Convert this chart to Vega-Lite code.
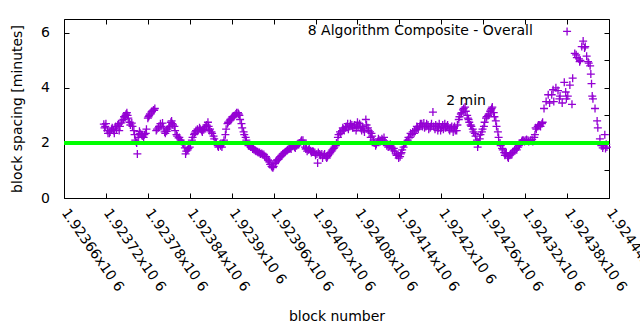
{
  "$schema": "https://vega.github.io/schema/vega-lite/v6.json",
  "width": 545,
  "height": 179,
  "autosize": "none",
  "padding": {"left": 64, "top": 19, "right": 31, "bottom": 132},
  "background": "white",
  "config": {
    "font": "DejaVu Sans",
    "view": {"stroke": "#000000", "strokeWidth": 1},
    "axis": {"grid": false, "domain": false, "labelFont": "DejaVu Sans", "titleFont": "DejaVu Sans", "labelFontSize": 14, "titleFontSize": 14, "titleFontWeight": "normal", "labelColor": "#000000", "titleColor": "#000000", "tickColor": "#000000", "tickSize": -5, "tickWidth": 1}
  },
  "datasets": {
    "blocks": [
      {"block": 1923717, "spacing": 2.68}, {"block": 1923719, "spacing": 2.6}, {"block": 1923722, "spacing": 2.45}, {"block": 1923725, "spacing": 2.35},
      {"block": 1923728, "spacing": 2.5}, {"block": 1923731, "spacing": 2.45}, {"block": 1923734, "spacing": 2.6}, {"block": 1923737, "spacing": 2.65},
      {"block": 1923739, "spacing": 2.45}, {"block": 1923742, "spacing": 2.73}, {"block": 1923745, "spacing": 2.85}, {"block": 1923747, "spacing": 2.95},
      {"block": 1923750, "spacing": 3.1}, {"block": 1923751, "spacing": 3.0}, {"block": 1923754, "spacing": 2.75}, {"block": 1923757, "spacing": 2.72},
      {"block": 1923760, "spacing": 2.45}, {"block": 1923762, "spacing": 2.1}, {"block": 1923764, "spacing": 2.0}, {"block": 1923765, "spacing": 1.6},
      {"block": 1923767, "spacing": 2.3}, {"block": 1923768, "spacing": 2.42}, {"block": 1923771, "spacing": 2.3}, {"block": 1923774, "spacing": 2.2},
      {"block": 1923777, "spacing": 2.35}, {"block": 1923780, "spacing": 2.9}, {"block": 1923782, "spacing": 3.0}, {"block": 1923785, "spacing": 3.12},
      {"block": 1923788, "spacing": 3.2}, {"block": 1923790, "spacing": 3.25}, {"block": 1923792, "spacing": 2.45}, {"block": 1923795, "spacing": 2.55},
      {"block": 1923798, "spacing": 2.7}, {"block": 1923801, "spacing": 2.72}, {"block": 1923804, "spacing": 2.4}, {"block": 1923807, "spacing": 2.42},
      {"block": 1923810, "spacing": 2.55}, {"block": 1923813, "spacing": 2.75}, {"block": 1923815, "spacing": 2.7}, {"block": 1923818, "spacing": 2.6},
      {"block": 1923821, "spacing": 2.3}, {"block": 1923824, "spacing": 2.18}, {"block": 1923827, "spacing": 2.1}, {"block": 1923830, "spacing": 2.0},
      {"block": 1923833, "spacing": 1.82}, {"block": 1923834, "spacing": 1.6}, {"block": 1923837, "spacing": 1.75}, {"block": 1923840, "spacing": 1.85},
      {"block": 1923843, "spacing": 2.1}, {"block": 1923846, "spacing": 2.3}, {"block": 1923848, "spacing": 2.4}, {"block": 1923851, "spacing": 2.5},
      {"block": 1923854, "spacing": 2.55}, {"block": 1923857, "spacing": 2.45}, {"block": 1923860, "spacing": 2.48}, {"block": 1923863, "spacing": 2.6},
      {"block": 1923866, "spacing": 2.75}, {"block": 1923868, "spacing": 2.45}, {"block": 1923871, "spacing": 2.4}, {"block": 1923874, "spacing": 2.25},
      {"block": 1923877, "spacing": 2.05}, {"block": 1923880, "spacing": 1.9}, {"block": 1923883, "spacing": 1.95}, {"block": 1923886, "spacing": 1.85},
      {"block": 1923888, "spacing": 2.0}, {"block": 1923891, "spacing": 2.3}, {"block": 1923894, "spacing": 2.7}, {"block": 1923897, "spacing": 2.8},
      {"block": 1923900, "spacing": 2.9}, {"block": 1923903, "spacing": 2.95}, {"block": 1923906, "spacing": 3.05}, {"block": 1923909, "spacing": 3.1},
      {"block": 1923911, "spacing": 3.0}, {"block": 1923914, "spacing": 2.7}, {"block": 1923917, "spacing": 2.4}, {"block": 1923920, "spacing": 2.2},
      {"block": 1923923, "spacing": 1.95}, {"block": 1923926, "spacing": 1.9}, {"block": 1923929, "spacing": 1.85}, {"block": 1923931, "spacing": 1.8},
      {"block": 1923934, "spacing": 1.72}, {"block": 1923937, "spacing": 1.68}, {"block": 1923940, "spacing": 1.65}, {"block": 1923943, "spacing": 1.62},
      {"block": 1923946, "spacing": 1.58}, {"block": 1923949, "spacing": 1.5}, {"block": 1923952, "spacing": 1.38}, {"block": 1923954, "spacing": 1.3},
      {"block": 1923957, "spacing": 1.15}, {"block": 1923959, "spacing": 1.1}, {"block": 1923962, "spacing": 1.25}, {"block": 1923964, "spacing": 1.35},
      {"block": 1923967, "spacing": 1.4}, {"block": 1923970, "spacing": 1.5}, {"block": 1923973, "spacing": 1.6}, {"block": 1923976, "spacing": 1.65},
      {"block": 1923979, "spacing": 1.72}, {"block": 1923982, "spacing": 1.78}, {"block": 1923984, "spacing": 1.82}, {"block": 1923987, "spacing": 1.88},
      {"block": 1923990, "spacing": 1.85}, {"block": 1923993, "spacing": 1.9}, {"block": 1923996, "spacing": 1.95}, {"block": 1923999, "spacing": 2.05},
      {"block": 1924002, "spacing": 2.1}, {"block": 1924005, "spacing": 1.85}, {"block": 1924007, "spacing": 1.8}, {"block": 1924010, "spacing": 1.75},
      {"block": 1924013, "spacing": 1.72}, {"block": 1924016, "spacing": 1.7}, {"block": 1924019, "spacing": 1.65}, {"block": 1924022, "spacing": 1.6},
      {"block": 1924023, "spacing": 1.27}, {"block": 1924026, "spacing": 1.6}, {"block": 1924029, "spacing": 1.6}, {"block": 1924032, "spacing": 1.55},
      {"block": 1924035, "spacing": 1.5}, {"block": 1924037, "spacing": 1.5}, {"block": 1924040, "spacing": 1.6}, {"block": 1924043, "spacing": 1.7},
      {"block": 1924046, "spacing": 1.8}, {"block": 1924049, "spacing": 1.9}, {"block": 1924052, "spacing": 2.2}, {"block": 1924055, "spacing": 2.4},
      {"block": 1924058, "spacing": 2.45}, {"block": 1924060, "spacing": 2.5}, {"block": 1924063, "spacing": 2.55}, {"block": 1924066, "spacing": 2.7},
      {"block": 1924069, "spacing": 2.6}, {"block": 1924072, "spacing": 2.65}, {"block": 1924075, "spacing": 2.55}, {"block": 1924078, "spacing": 2.45},
      {"block": 1924080, "spacing": 2.75}, {"block": 1924083, "spacing": 2.7}, {"block": 1924086, "spacing": 2.45}, {"block": 1924089, "spacing": 2.5},
      {"block": 1924092, "spacing": 2.85}, {"block": 1924095, "spacing": 2.55}, {"block": 1924098, "spacing": 2.4}, {"block": 1924100, "spacing": 2.35},
      {"block": 1924103, "spacing": 2.1}, {"block": 1924106, "spacing": 1.9}, {"block": 1924109, "spacing": 2.05}, {"block": 1924112, "spacing": 2.1},
      {"block": 1924115, "spacing": 2.15}, {"block": 1924118, "spacing": 2.2}, {"block": 1924121, "spacing": 2.0}, {"block": 1924123, "spacing": 1.95},
      {"block": 1924126, "spacing": 1.9}, {"block": 1924129, "spacing": 1.85}, {"block": 1924132, "spacing": 1.8}, {"block": 1924135, "spacing": 1.6},
      {"block": 1924138, "spacing": 1.55}, {"block": 1924141, "spacing": 1.5}, {"block": 1924143, "spacing": 1.65}, {"block": 1924146, "spacing": 1.85},
      {"block": 1924149, "spacing": 2.0}, {"block": 1924152, "spacing": 2.1}, {"block": 1924155, "spacing": 2.2}, {"block": 1924158, "spacing": 2.3},
      {"block": 1924161, "spacing": 2.35}, {"block": 1924164, "spacing": 2.5}, {"block": 1924166, "spacing": 2.55}, {"block": 1924169, "spacing": 2.6},
      {"block": 1924172, "spacing": 2.7}, {"block": 1924175, "spacing": 2.72}, {"block": 1924178, "spacing": 2.6}, {"block": 1924181, "spacing": 2.65},
      {"block": 1924184, "spacing": 2.55}, {"block": 1924186, "spacing": 2.7}, {"block": 1924188, "spacing": 3.12}, {"block": 1924191, "spacing": 2.5},
      {"block": 1924194, "spacing": 2.6}, {"block": 1924196, "spacing": 2.55}, {"block": 1924199, "spacing": 2.45}, {"block": 1924202, "spacing": 2.65},
      {"block": 1924205, "spacing": 2.7}, {"block": 1924208, "spacing": 2.6}, {"block": 1924211, "spacing": 2.5}, {"block": 1924214, "spacing": 2.55},
      {"block": 1924217, "spacing": 2.4}, {"block": 1924219, "spacing": 2.6}, {"block": 1924222, "spacing": 2.45}, {"block": 1924225, "spacing": 2.85},
      {"block": 1924228, "spacing": 3.05}, {"block": 1924231, "spacing": 3.2}, {"block": 1924234, "spacing": 3.3}, {"block": 1924237, "spacing": 3.0},
      {"block": 1924239, "spacing": 2.85}, {"block": 1924242, "spacing": 2.65}, {"block": 1924245, "spacing": 2.5}, {"block": 1924248, "spacing": 2.35},
      {"block": 1924251, "spacing": 2.1}, {"block": 1924252, "spacing": 1.85}, {"block": 1924255, "spacing": 2.15}, {"block": 1924258, "spacing": 2.4},
      {"block": 1924261, "spacing": 2.6}, {"block": 1924264, "spacing": 2.9}, {"block": 1924267, "spacing": 3.0}, {"block": 1924270, "spacing": 3.15},
      {"block": 1924272, "spacing": 3.25}, {"block": 1924275, "spacing": 3.1}, {"block": 1924278, "spacing": 2.8}, {"block": 1924281, "spacing": 2.4},
      {"block": 1924284, "spacing": 2.0}, {"block": 1924287, "spacing": 1.8}, {"block": 1924290, "spacing": 1.65}, {"block": 1924292, "spacing": 1.6},
      {"block": 1924295, "spacing": 1.5}, {"block": 1924298, "spacing": 1.55}, {"block": 1924301, "spacing": 1.6}, {"block": 1924304, "spacing": 1.7},
      {"block": 1924307, "spacing": 1.8}, {"block": 1924310, "spacing": 1.85}, {"block": 1924312, "spacing": 1.95}, {"block": 1924315, "spacing": 2.05},
      {"block": 1924318, "spacing": 2.1}, {"block": 1924321, "spacing": 2.1}, {"block": 1924324, "spacing": 2.1}, {"block": 1924327, "spacing": 2.08},
      {"block": 1924330, "spacing": 2.12}, {"block": 1924333, "spacing": 2.2}, {"block": 1924335, "spacing": 2.55}, {"block": 1924338, "spacing": 2.6},
      {"block": 1924341, "spacing": 2.65}, {"block": 1924344, "spacing": 2.7}, {"block": 1924347, "spacing": 3.25}, {"block": 1924350, "spacing": 3.5},
      {"block": 1924353, "spacing": 3.75}, {"block": 1924355, "spacing": 3.45}, {"block": 1924358, "spacing": 3.75}, {"block": 1924360, "spacing": 3.93},
      {"block": 1924361, "spacing": 3.5}, {"block": 1924364, "spacing": 4.0}, {"block": 1924367, "spacing": 3.9}, {"block": 1924369, "spacing": 3.6},
      {"block": 1924370, "spacing": 3.7}, {"block": 1924373, "spacing": 3.45}, {"block": 1924376, "spacing": 4.2}, {"block": 1924378, "spacing": 3.85},
      {"block": 1924379, "spacing": 3.6}, {"block": 1924381, "spacing": 3.7}, {"block": 1924384, "spacing": 4.1}, {"block": 1924387, "spacing": 3.4},
      {"block": 1924388, "spacing": 4.35}, {"block": 1924391, "spacing": 5.25}, {"block": 1924393, "spacing": 5.2}, {"block": 1924394, "spacing": 5.1},
      {"block": 1924397, "spacing": 5.05}, {"block": 1924398, "spacing": 4.95}, {"block": 1924399, "spacing": 5.0}, {"block": 1924401, "spacing": 5.5},
      {"block": 1924403, "spacing": 5.7}, {"block": 1924405, "spacing": 5.45}, {"block": 1924406, "spacing": 5.5}, {"block": 1924408, "spacing": 5.15},
      {"block": 1924410, "spacing": 4.95}, {"block": 1924411, "spacing": 4.9}, {"block": 1924413, "spacing": 4.8}, {"block": 1924414, "spacing": 4.5},
      {"block": 1924415, "spacing": 4.15}, {"block": 1924416, "spacing": 3.7}, {"block": 1924417, "spacing": 3.6}, {"block": 1924420, "spacing": 3.25},
      {"block": 1924423, "spacing": 2.8}, {"block": 1924424, "spacing": 2.55}, {"block": 1924427, "spacing": 2.15}, {"block": 1924429, "spacing": 1.9},
      {"block": 1924431, "spacing": 1.82}, {"block": 1924432, "spacing": 1.9}, {"block": 1924434, "spacing": 2.3}, {"block": 1924435, "spacing": 1.8},
      {"block": 1924436, "spacing": 1.95}, {"block": 1924437, "spacing": 1.85},
      {"block": 1923718, "spacing": 2.55}, {"block": 1923720, "spacing": 2.7}, {"block": 1923723, "spacing": 2.35}, {"block": 1923726, "spacing": 2.4},
      {"block": 1923729, "spacing": 2.55}, {"block": 1923732, "spacing": 2.35}, {"block": 1923735, "spacing": 2.5}, {"block": 1923738, "spacing": 2.7},
      {"block": 1923740, "spacing": 2.6}, {"block": 1923743, "spacing": 2.8}, {"block": 1923746, "spacing": 2.95}, {"block": 1923748, "spacing": 3.0},
      {"block": 1923749, "spacing": 3.05}, {"block": 1923752, "spacing": 2.9}, {"block": 1923755, "spacing": 2.65}, {"block": 1923758, "spacing": 2.6},
      {"block": 1923761, "spacing": 2.3}, {"block": 1923763, "spacing": 2.05}, {"block": 1923766, "spacing": 2.2}, {"block": 1923769, "spacing": 2.35},
      {"block": 1923772, "spacing": 2.25}, {"block": 1923775, "spacing": 2.3}, {"block": 1923778, "spacing": 2.5}, {"block": 1923781, "spacing": 2.95},
      {"block": 1923783, "spacing": 3.05}, {"block": 1923786, "spacing": 3.15}, {"block": 1923789, "spacing": 3.18}, {"block": 1923793, "spacing": 2.5},
      {"block": 1923796, "spacing": 2.6}, {"block": 1923799, "spacing": 2.6}, {"block": 1923802, "spacing": 2.55}, {"block": 1923805, "spacing": 2.35},
      {"block": 1923808, "spacing": 2.5}, {"block": 1923811, "spacing": 2.6}, {"block": 1923814, "spacing": 2.8}, {"block": 1923816, "spacing": 2.65},
      {"block": 1923819, "spacing": 2.45}, {"block": 1923822, "spacing": 2.25}, {"block": 1923825, "spacing": 2.2}, {"block": 1923828, "spacing": 2.05},
      {"block": 1923831, "spacing": 1.95}, {"block": 1923835, "spacing": 1.7}, {"block": 1923838, "spacing": 1.8}, {"block": 1923841, "spacing": 1.95},
      {"block": 1923844, "spacing": 2.2}, {"block": 1923847, "spacing": 2.35}, {"block": 1923849, "spacing": 2.45}, {"block": 1923852, "spacing": 2.45},
      {"block": 1923855, "spacing": 2.5}, {"block": 1923858, "spacing": 2.4}, {"block": 1923861, "spacing": 2.55}, {"block": 1923864, "spacing": 2.65},
      {"block": 1923867, "spacing": 2.6}, {"block": 1923869, "spacing": 2.5}, {"block": 1923872, "spacing": 2.35}, {"block": 1923875, "spacing": 2.15},
      {"block": 1923878, "spacing": 2.0}, {"block": 1923881, "spacing": 1.85}, {"block": 1923884, "spacing": 1.9}, {"block": 1923887, "spacing": 1.95},
      {"block": 1923889, "spacing": 2.1}, {"block": 1923892, "spacing": 2.5}, {"block": 1923895, "spacing": 2.75}, {"block": 1923898, "spacing": 2.85},
      {"block": 1923901, "spacing": 2.95}, {"block": 1923904, "spacing": 3.0}, {"block": 1923907, "spacing": 3.1}, {"block": 1923910, "spacing": 3.05},
      {"block": 1923912, "spacing": 2.85}, {"block": 1923915, "spacing": 2.55}, {"block": 1923918, "spacing": 2.3}, {"block": 1923921, "spacing": 2.1},
      {"block": 1923924, "spacing": 1.9}, {"block": 1923927, "spacing": 1.85}, {"block": 1923930, "spacing": 1.78}, {"block": 1923932, "spacing": 1.75},
      {"block": 1923935, "spacing": 1.7}, {"block": 1923938, "spacing": 1.65}, {"block": 1923941, "spacing": 1.6}, {"block": 1923944, "spacing": 1.58},
      {"block": 1923947, "spacing": 1.52}, {"block": 1923950, "spacing": 1.45}, {"block": 1923953, "spacing": 1.35}, {"block": 1923955, "spacing": 1.22},
      {"block": 1923958, "spacing": 1.12}, {"block": 1923960, "spacing": 1.15}, {"block": 1923963, "spacing": 1.3}, {"block": 1923965, "spacing": 1.38},
      {"block": 1923968, "spacing": 1.45}, {"block": 1923971, "spacing": 1.55}, {"block": 1923974, "spacing": 1.62}, {"block": 1923977, "spacing": 1.68},
      {"block": 1923980, "spacing": 1.75}, {"block": 1923983, "spacing": 1.8}, {"block": 1923985, "spacing": 1.78}, {"block": 1923988, "spacing": 1.92},
      {"block": 1923991, "spacing": 1.82}, {"block": 1923994, "spacing": 1.95}, {"block": 1923997, "spacing": 2.0}, {"block": 1924000, "spacing": 2.1},
      {"block": 1924003, "spacing": 1.95}, {"block": 1924006, "spacing": 1.78}, {"block": 1924008, "spacing": 1.7}, {"block": 1924011, "spacing": 1.8},
      {"block": 1924014, "spacing": 1.65}, {"block": 1924017, "spacing": 1.68}, {"block": 1924020, "spacing": 1.55}, {"block": 1924024, "spacing": 1.65},
      {"block": 1924027, "spacing": 1.55}, {"block": 1924030, "spacing": 1.45}, {"block": 1924033, "spacing": 1.6}, {"block": 1924036, "spacing": 1.45},
      {"block": 1924038, "spacing": 1.55}, {"block": 1924041, "spacing": 1.65}, {"block": 1924044, "spacing": 1.75}, {"block": 1924047, "spacing": 1.85},
      {"block": 1924050, "spacing": 2.0}, {"block": 1924053, "spacing": 2.3}, {"block": 1924056, "spacing": 2.35}, {"block": 1924059, "spacing": 2.55},
      {"block": 1924061, "spacing": 2.45}, {"block": 1924064, "spacing": 2.6}, {"block": 1924067, "spacing": 2.5}, {"block": 1924070, "spacing": 2.7},
      {"block": 1924073, "spacing": 2.55}, {"block": 1924076, "spacing": 2.65}, {"block": 1924079, "spacing": 2.55}, {"block": 1924081, "spacing": 2.6},
      {"block": 1924084, "spacing": 2.55}, {"block": 1924087, "spacing": 2.6}, {"block": 1924090, "spacing": 2.4}, {"block": 1924093, "spacing": 2.65},
      {"block": 1924096, "spacing": 2.45}, {"block": 1924099, "spacing": 2.2}, {"block": 1924101, "spacing": 2.25}, {"block": 1924104, "spacing": 2.0},
      {"block": 1924107, "spacing": 1.95}, {"block": 1924110, "spacing": 2.15}, {"block": 1924113, "spacing": 2.05}, {"block": 1924116, "spacing": 2.1},
      {"block": 1924119, "spacing": 2.05}, {"block": 1924122, "spacing": 1.9}, {"block": 1924124, "spacing": 1.85}, {"block": 1924127, "spacing": 1.95},
      {"block": 1924130, "spacing": 1.75}, {"block": 1924133, "spacing": 1.7}, {"block": 1924136, "spacing": 1.55}, {"block": 1924139, "spacing": 1.45},
      {"block": 1924142, "spacing": 1.6}, {"block": 1924144, "spacing": 1.75}, {"block": 1924147, "spacing": 1.95}, {"block": 1924150, "spacing": 2.05},
      {"block": 1924153, "spacing": 2.2}, {"block": 1924156, "spacing": 2.35}, {"block": 1924159, "spacing": 2.4}, {"block": 1924162, "spacing": 2.45},
      {"block": 1924165, "spacing": 2.6}, {"block": 1924167, "spacing": 2.5}, {"block": 1924170, "spacing": 2.7}, {"block": 1924173, "spacing": 2.6},
      {"block": 1924176, "spacing": 2.55}, {"block": 1924179, "spacing": 2.7}, {"block": 1924182, "spacing": 2.5}, {"block": 1924185, "spacing": 2.6},
      {"block": 1924189, "spacing": 2.6}, {"block": 1924192, "spacing": 2.65}, {"block": 1924195, "spacing": 2.45}, {"block": 1924197, "spacing": 2.7},
      {"block": 1924200, "spacing": 2.55}, {"block": 1924203, "spacing": 2.5}, {"block": 1924206, "spacing": 2.55}, {"block": 1924209, "spacing": 2.65},
      {"block": 1924212, "spacing": 2.45}, {"block": 1924215, "spacing": 2.6}, {"block": 1924218, "spacing": 2.55}, {"block": 1924220, "spacing": 2.45},
      {"block": 1924223, "spacing": 2.65}, {"block": 1924226, "spacing": 2.95}, {"block": 1924229, "spacing": 3.1}, {"block": 1924232, "spacing": 3.25},
      {"block": 1924235, "spacing": 3.15}, {"block": 1924238, "spacing": 2.9}, {"block": 1924240, "spacing": 2.75}, {"block": 1924243, "spacing": 2.6},
      {"block": 1924246, "spacing": 2.4}, {"block": 1924249, "spacing": 2.25}, {"block": 1924253, "spacing": 2.0}, {"block": 1924256, "spacing": 2.3},
      {"block": 1924259, "spacing": 2.5}, {"block": 1924262, "spacing": 2.75}, {"block": 1924265, "spacing": 2.95}, {"block": 1924268, "spacing": 3.05},
      {"block": 1924271, "spacing": 3.2}, {"block": 1924273, "spacing": 3.3}, {"block": 1924276, "spacing": 2.95}, {"block": 1924279, "spacing": 2.6},
      {"block": 1924282, "spacing": 2.2}, {"block": 1924285, "spacing": 1.9}, {"block": 1924288, "spacing": 1.75}, {"block": 1924291, "spacing": 1.55},
      {"block": 1924293, "spacing": 1.65}, {"block": 1924296, "spacing": 1.45}, {"block": 1924299, "spacing": 1.6}, {"block": 1924302, "spacing": 1.65},
      {"block": 1924305, "spacing": 1.75}, {"block": 1924308, "spacing": 1.75}, {"block": 1924311, "spacing": 1.9}, {"block": 1924313, "spacing": 2.0},
      {"block": 1924316, "spacing": 2.1}, {"block": 1924319, "spacing": 2.05}, {"block": 1924322, "spacing": 2.12}, {"block": 1924325, "spacing": 2.05},
      {"block": 1924328, "spacing": 2.1}, {"block": 1924331, "spacing": 2.05}, {"block": 1924334, "spacing": 2.3}, {"block": 1924336, "spacing": 2.5},
      {"block": 1924339, "spacing": 2.65}, {"block": 1924342, "spacing": 2.6}, {"block": 1924345, "spacing": 2.75}
    ]
  },
  "layer": [
    {
      "layer": [
        {
          "data": {"name": "blocks"},
          "mark": {"type": "point", "shape": "M-1,0L1,0M0,-1L0,1", "filled": false, "color": "#9400D3", "strokeWidth": 1.3, "size": 64, "opacity": 1},
          "encoding": {
            "x": {
              "field": "block", "type": "quantitative",
              "scale": {"domain": [1923660, 1924440], "nice": false, "zero": false},
              "axis": {
                "orient": "bottom",
                "values": [1923660, 1923720, 1923780, 1923840, 1923900, 1923960, 1924020, 1924080, 1924140, 1924200, 1924260, 1924320, 1924380, 1924440],
                "labelExpr": "format(datum.value / 1000000, '.5~f') + 'x10 6'",
                "labelAngle": 55, "labelAlign": "left", "labelBaseline": "middle",
                "labelPadding": 17, "labelOverlap": false, "labelFlush": false, "labelBound": false,
                "title": "block number", "titleY": 118, "titleBaseline": "middle"
              }
            },
            "y": {
              "field": "spacing", "type": "quantitative",
              "scale": {"domain": [0, 6.5], "nice": false, "zero": true},
              "axis": {
                "orient": "left",
                "values": [0, 1, 2, 3, 4, 5, 6],
                "labelPadding": 19.5,
                "title": "block spacing [minutes]", "titleX": -47, "titleBaseline": "middle", "titleAngle": -90
              }
            }
          }
        },
        {
          "data": {"values": [{}]},
          "mark": {"type": "rule", "color": "#00FF00", "strokeWidth": 4},
          "encoding": {"y": {"datum": 2, "type": "quantitative"}}
        },
        {
          "data": {"values": [{}]},
          "mark": {"type": "text", "align": "right", "baseline": "middle", "fontSize": 14, "font": "DejaVu Sans", "color": "#000000"},
          "encoding": {
            "x": {"datum": 1924331, "type": "quantitative"},
            "y": {"datum": 6.05, "type": "quantitative"},
            "text": {"value": "8 Algorithm Composite - Overall"}
          }
        },
        {
          "data": {"values": [{}]},
          "mark": {"type": "point", "shape": "M-1,0L1,0M0,-1L0,1", "filled": false, "color": "#9400D3", "strokeWidth": 1.3, "size": 64, "opacity": 1},
          "encoding": {
            "x": {"datum": 1924380, "type": "quantitative"},
            "y": {"datum": 6.05, "type": "quantitative"}
          }
        },
        {
          "data": {"values": [{}]},
          "mark": {"type": "text", "align": "left", "baseline": "middle", "fontSize": 14, "font": "DejaVu Sans", "color": "#000000"},
          "encoding": {
            "x": {"datum": 1924207, "type": "quantitative"},
            "y": {"datum": 3.51, "type": "quantitative"},
            "text": {"value": "2 min"}
          }
        }
      ]
    },
    {
      "data": {"values": [{}]},
      "mark": {"type": "point", "opacity": 0},
      "encoding": {
        "x": {
          "datum": 1923660, "type": "quantitative",
          "scale": {"domain": [1923660, 1924440], "nice": false, "zero": false},
          "axis": {"orient": "top", "values": [1923660, 1923720, 1923780, 1923840, 1923900, 1923960, 1924020, 1924080, 1924140, 1924200, 1924260, 1924320, 1924380, 1924440], "labels": false, "title": null}
        },
        "y": {
          "datum": 0, "type": "quantitative",
          "scale": {"domain": [0, 6.5], "nice": false, "zero": true},
          "axis": {"orient": "right", "values": [0, 1, 2, 3, 4, 5, 6], "labels": false, "title": null}
        }
      }
    }
  ],
  "resolve": {"scale": {"x": "independent", "y": "independent"}}
}
